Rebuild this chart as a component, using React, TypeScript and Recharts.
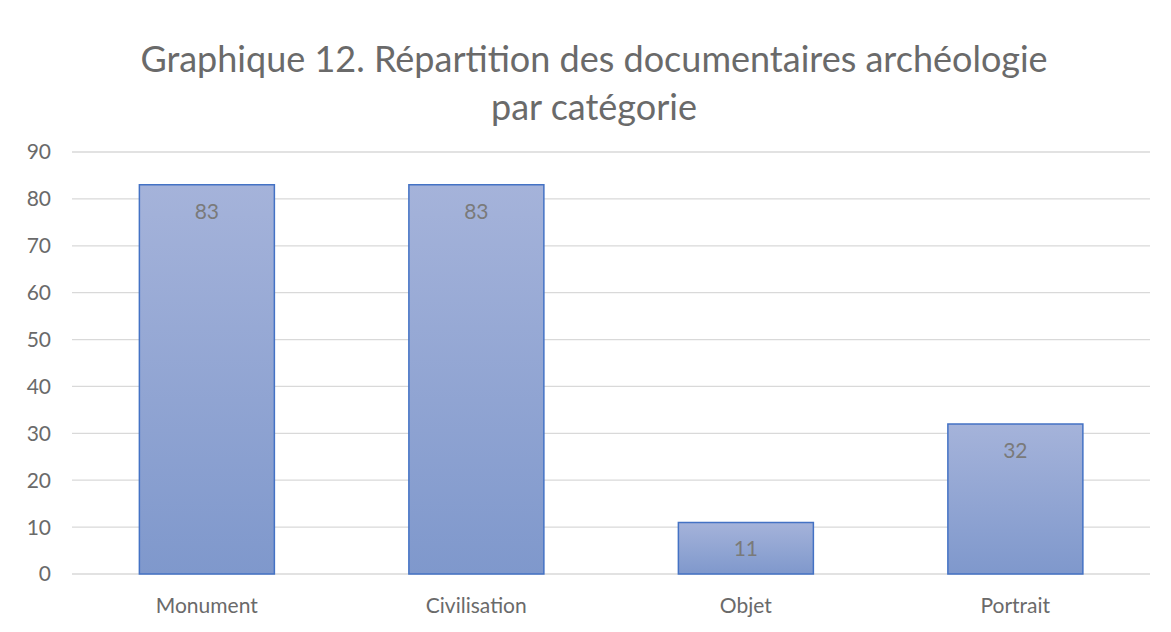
import React from 'react';
import {
  BarChart,
  Bar,
  XAxis,
  YAxis,
  CartesianGrid,
  LabelList,
} from 'recharts';

// chart values
const categories = ['Monument', 'Civilisation', 'Objet', 'Portrait'];
const counts = [83, 83, 11, 32];
const yTicks = [0, 10, 20, 30, 40, 50, 60, 70, 80, 90];
const titleLines = [
  'Graphique 12. Répartition des documentaires archéologie',
  'par catégorie',
];

const data = categories.map((name, i) => ({ name, value: counts[i] }));

const FONT = 'Lato, "Open Sans", sans-serif';
const TEXT = '#6a6a6a';

export default function App() {
  return (
    <div
      style={{
        position: 'relative',
        width: 1180,
        height: 624,
        marginLeft: -2,
        marginTop: -2,
        border: '2px solid #d9d9d9',
        fontFamily: FONT,
        background: '#fff',
      }}
    >
      <div
        style={{
          position: 'absolute',
          left: 0,
          right: 8,
          top: 26,
          textAlign: 'center',
          color: TEXT,
          fontSize: 36,
          lineHeight: '48px',
        }}
      >
        {titleLines.map((t) => (
          <div key={t}>{t}</div>
        ))}
      </div>
      <BarChart
        width={1180}
        height={624}
        data={data}
        margin={{ top: 144, right: 38, left: 0, bottom: 28 }}
        barCategoryGap="25%"
      >
        <defs>
          <linearGradient id="barFill" x1="0" y1="0" x2="0" y2="1">
            <stop offset="0%" stopColor="#a5b3da" />
            <stop offset="100%" stopColor="#7f98cc" />
          </linearGradient>
        </defs>
        <CartesianGrid vertical={false} stroke="#d9d9d9" strokeWidth={1.3} />
        <XAxis
          dataKey="name"
          axisLine={false}
          tickLine={false}
          height={30}
          tickSize={0}
          tickMargin={24}
          tick={{ fill: TEXT, fontSize: 21, fontFamily: FONT }}
        />
        <YAxis
          domain={[0, 90]}
          ticks={yTicks}
          width={64}
          axisLine={false}
          tickLine={false}
          tickSize={0}
          tickMargin={21}
          tick={{ fill: TEXT, fontSize: 21, fontFamily: FONT }}
        />
        <Bar
          dataKey="value"
          fill="url(#barFill)"
          stroke="#4472c4"
          strokeWidth={1.5}
          isAnimationActive={false}
        >
          <LabelList
            dataKey="value"
            position="insideTop"
            offset={19}
            fill="#7a7a7a"
            fontSize={21}
            fontFamily={FONT}
          />
        </Bar>
      </BarChart>
    </div>
  );
}
